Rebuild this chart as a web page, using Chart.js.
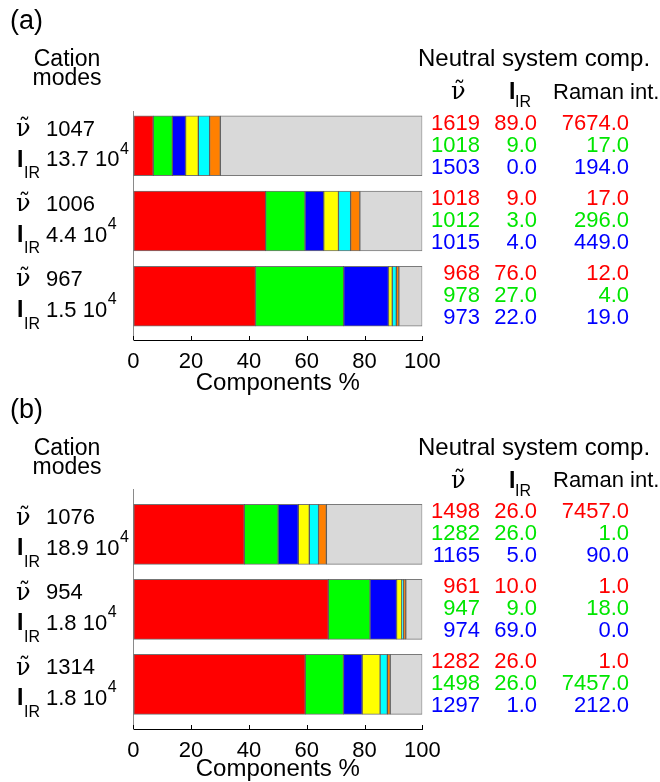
<!DOCTYPE html>
<html><head><meta charset="utf-8">
<script src="https://cdn.jsdelivr.net/npm/chart.js@4.4.1/dist/chart.umd.min.js"></script>
<style>
html,body{margin:0;padding:0;background:#fff;}
#wrapA{position:absolute;left:0;top:0;width:660px;height:400px;}
#wrapB{position:absolute;left:0;top:391px;width:660px;height:391px;}
canvas{display:block;}
</style></head><body>
<div id="wrapA"><canvas id="ca" width="660" height="400"></canvas></div>
<div id="wrapB"><canvas id="cb" width="660" height="391"></canvas></div>
<script>
// ---------- data ----------
const componentLabels = ['1st', '2nd', '3rd', '4th', '5th', '6th', 'rest'];
const componentColors = ['#ff0000', '#00ff00', '#0000ff', '#ffff00', '#00ffff', '#ff8000', '#d9d9d9'];
const rowColors = ['#ff0000', '#00e600', '#0000ff'];
const xTickValues = [0, 20, 40, 60, 80, 100];

// Panel (a) components % per cation mode (3 modes)
const a_c1 = [6.9, 45.8, 42.3];
const a_c2 = [6.6, 13.6, 30.5];
const a_c3 = [4.6, 6.5, 15.5];
const a_c4 = [4.4, 5.1, 1.3];
const a_c5 = [3.9, 4.2, 1.4];
const a_c6 = [3.7, 3.2, 0.9];
const a_rest = [69.9, 21.6, 8.1];

const a_modeNu = ['1047', '1006', '967'];
const a_modeIr = ['13.7', '4.4', '1.5'];
const a_tabNu = [['1619', '1018', '1503'], ['1018', '1012', '1015'], ['968', '978', '973']];
const a_tabIr = [['89.0', '9.0', '0.0'], ['9.0', '3.0', '4.0'], ['76.0', '27.0', '22.0']];
const a_tabRaman = [['7674.0', '17.0', '194.0'], ['17.0', '296.0', '449.0'], ['12.0', '4.0', '19.0']];

// Panel (b)
const b_c1 = [38.4, 67.5, 59.5];
const b_c2 = [11.7, 14.4, 13.2];
const b_c3 = [7.0, 9.2, 6.5];
const b_c4 = [3.8, 1.8, 6.2];
const b_c5 = [3.2, 0.6, 2.5];
const b_c6 = [2.7, 0.8, 1.0];
const b_rest = [33.2, 5.7, 11.1];

const b_modeNu = ['1076', '954', '1314'];
const b_modeIr = ['18.9', '1.8', '1.8'];
const b_tabNu = [['1498', '1282', '1165'], ['961', '947', '974'], ['1282', '1498', '1297']];
const b_tabIr = [['26.0', '26.0', '5.0'], ['10.0', '9.0', '69.0'], ['26.0', '26.0', '1.0']];
const b_tabRaman = [['7457.0', '1.0', '90.0'], ['1.0', '18.0', '0.0'], ['1.0', '7457.0', '212.0']];

// ---------- drawing ----------
const SANS = '"Liberation Sans", Arial, Helvetica, sans-serif';
const SERIF = '"DejaVu Serif", serif';
function txt(ctx, s, x, y, font, color, align) {
  ctx.font = font; ctx.fillStyle = color; ctx.textAlign = align || 'left'; ctx.textBaseline = 'middle';
  ctx.fillText(s, x, y);
  return ctx.measureText(s).width;
}

function annotPlugin(title, modeNu, modeIr, tabNu, tabIr, tabRaman) {
  return {
    id: 'annot',
    afterDraw(chart) {
      const ctx = chart.ctx, ys = chart.scales.y, xs = chart.scales.x, ca = chart.chartArea;
      const c0 = ys.getPixelForValue(0);
      ctx.save();
      // inward tick marks
      ctx.strokeStyle = '#000'; ctx.lineWidth = 1;
      xs.ticks.forEach(t => {
        const px = Math.round(xs.getPixelForValue(t.value)) + 0.5;
        ctx.beginPath(); ctx.moveTo(px, ca.bottom); ctx.lineTo(px, ca.bottom - 4); ctx.stroke();
      });
      // panel letter and left header
      txt(ctx, title, 10, c0 - 124, '27px ' + SANS, '#000', 'left');
      txt(ctx, 'Cation', 67, c0 - 86, '23px ' + SANS, '#000', 'center');
      txt(ctx, 'modes', 67, c0 - 67, '23px ' + SANS, '#000', 'center');
      // right header
      txt(ctx, 'Neutral system comp.', 418, c0 - 86, '24px ' + SANS, '#000', 'left');
      txt(ctx, 'ν\u0303', 451, c0 - 53, '24px ' + SERIF, '#000', 'left');
      txt(ctx, 'I', 509, c0 - 53, 'bold 23px ' + SANS, '#000', 'left');
      txt(ctx, 'IR', 515, c0 - 43, '16px ' + SANS, '#000', 'left');
      txt(ctx, 'Raman int.', 553, c0 - 53, '22px ' + SANS, '#000', 'left');
      for (let i = 0; i < 3; i++) {
        const c = ys.getPixelForValue(i);
        // cation mode labels
        txt(ctx, 'ν\u0303', 16, c - 16, '24px ' + SERIF, '#000', 'left');
        txt(ctx, modeNu[i], 46, c - 16, '22px ' + SANS, '#000', 'left');
        txt(ctx, 'I', 17, c + 14.5, 'bold 23px ' + SANS, '#000', 'left');
        txt(ctx, 'IR', 24, c + 28, '16px ' + SANS, '#000', 'left');
        const w = txt(ctx, modeIr[i] + ' 10', 46, c + 14.5, '22px ' + SANS, '#000', 'left');
        txt(ctx, '4', 46 + w + 0.5, c + 3.5, '16px ' + SANS, '#000', 'left');
        // neutral system table
        for (let r = 0; r < 3; r++) {
          const yy = c + (r - 1) * 22;
          txt(ctx, tabNu[i][r], 480, yy, '22px ' + SANS, rowColors[r], 'right');
          txt(ctx, tabIr[i][r], 537, yy, '22px ' + SANS, rowColors[r], 'right');
          txt(ctx, tabRaman[i][r], 629, yy, '22px ' + SANS, rowColors[r], 'right');
        }
      }
      ctx.restore();
    }
  };
}

function makeChart(canvasId, series, yMin, yMax, padTop, axisH, titlePadBottom, plugin) {
  const datasets = series.map((arr, k) => ({
    label: componentLabels[k],
    data: arr.map((v, i) => ({ x: v, y: i })),
    backgroundColor: componentColors[k],
    borderColor: k === 6 ? '#7a7a7a' : 'rgba(0,0,0,0.55)',
    borderWidth: 1,
    borderSkipped: false,
    barThickness: 60
  }));
  return new Chart(document.getElementById(canvasId), {
    type: 'bar',
    data: { datasets },
    options: {
      indexAxis: 'y',
      responsive: false,
      animation: false,
      events: [],
      layout: { padding: { left: 133.3, right: 237.7, top: padTop, bottom: 0 } },
      plugins: { legend: { display: false }, tooltip: { enabled: false } },
      scales: {
        x: {
          type: 'linear', stacked: true, min: 0, max: 100,
          afterBuildTicks: s => { s.ticks = xTickValues.map(v => ({ value: v })); },
          ticks: { color: '#000', font: { family: SANS, size: 22 }, padding: 9 },
          grid: { display: true, drawOnChartArea: false, drawTicks: false },
          border: { display: true, color: '#000', width: 1 },
          title: { display: true, text: 'Components %', color: '#000', font: { family: SANS, size: 24 }, padding: { top: 0, bottom: titlePadBottom } },
          afterFit: s => { s.height = axisH; }
        },
        y: {
          type: 'linear', stacked: true, reverse: true, offset: false, min: yMin, max: yMax,
          ticks: { display: false },
          grid: { display: true, offset: false, drawOnChartArea: false, drawTicks: false },
          border: { display: true, color: '#8a8a8a', width: 1 },
          afterFit: s => { s.width = 0; }
        }
      }
    },
    plugins: [plugin]
  });
}

makeChart('ca', [a_c1, a_c2, a_c3, a_c4, a_c5, a_c6, a_rest], -0.455, 2.582, 111.5, 60, 2.5,
  annotPlugin('(a)', a_modeNu, a_modeIr, a_tabNu, a_tabIr, a_tabRaman));
makeChart('cb', [b_c1, b_c2, b_c3, b_c4, b_c5, b_c6, b_rest], -0.604, 2.596, 98, 53, -1.5,
  annotPlugin('(b)', b_modeNu, b_modeIr, b_tabNu, b_tabIr, b_tabRaman));
</script>
</body></html>
